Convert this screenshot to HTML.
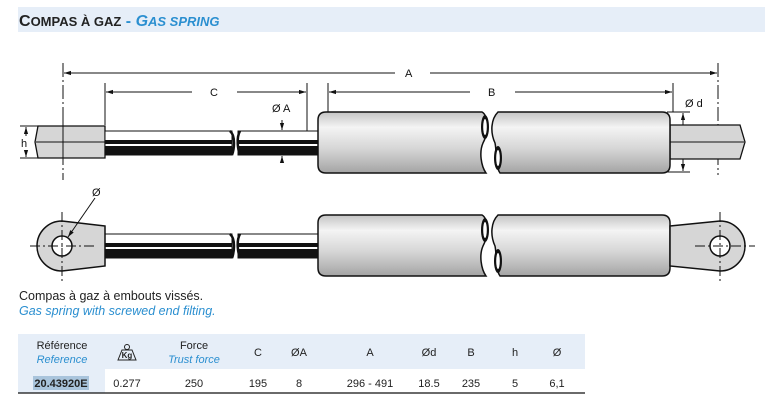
<!DOCTYPE html>
<html><head><meta charset="utf-8"><style>
body{margin:0;width:772px;height:408px;background:#fff;overflow:hidden;font-family:"Liberation Sans",sans-serif}
svg{position:absolute;left:0;top:0}
</style></head><body>
<svg width="772" height="408" viewBox="0 0 772 408" xmlns="http://www.w3.org/2000/svg" font-family="Liberation Sans, sans-serif">
<defs>
<linearGradient id="g" x1="0" y1="0" x2="0" y2="1">
<stop offset="0" stop-color="#c4c4c4"/><stop offset="0.25" stop-color="#f4f4f4"/><stop offset="0.6" stop-color="#d6d6d6"/><stop offset="1" stop-color="#a4a4a4"/></linearGradient>
<marker id="ar" viewBox="0 0 10 10" refX="10" refY="5" markerWidth="7" markerHeight="7" orient="auto-start-reverse"><path d="M0,2 L10,5 L0,8 Z" fill="#111"/></marker>
</defs>
<rect x="18" y="7" width="747" height="25" fill="#e6eef8"/>
<text x="19" y="26" font-size="16" font-weight="bold" fill="#222">C<tspan font-size="13">OMPAS À GAZ</tspan> <tspan fill="#2b8fd0">- </tspan><tspan fill="#2b8fd0" font-style="italic">G<tspan font-size="13">AS SPRING</tspan></tspan></text>

<g stroke="#111" stroke-width="1" fill="none">
<line x1="63" y1="63" x2="63" y2="180" stroke-dasharray="14,3,2,3"/>
<line x1="718" y1="63" x2="718" y2="175" stroke-dasharray="14,3,2,3"/>
<line x1="105" y1="83" x2="105" y2="125"/>
<line x1="307" y1="83" x2="307" y2="131"/>
<line x1="328" y1="83" x2="328" y2="112"/>
<line x1="673" y1="83" x2="673" y2="112"/>
<line x1="64" y1="73" x2="395" y2="73" marker-start="url(#ar)"/>
<line x1="430" y1="73" x2="717" y2="73" marker-end="url(#ar)"/>
<line x1="106" y1="92" x2="192" y2="92" marker-start="url(#ar)"/>
<line x1="237" y1="92" x2="306" y2="92" marker-end="url(#ar)"/>
<line x1="329" y1="92" x2="470" y2="92" marker-start="url(#ar)"/>
<line x1="515" y1="92" x2="672" y2="92" marker-end="url(#ar)"/>
<line x1="20" y1="126" x2="38" y2="126"/><line x1="20" y1="158" x2="38" y2="158"/>
<line x1="26" y1="136" x2="26" y2="127" marker-end="url(#ar)"/>
<line x1="26" y1="150" x2="26" y2="157" marker-end="url(#ar)"/>
<line x1="282" y1="120" x2="282" y2="130" marker-end="url(#ar)"/>
<line x1="282" y1="131" x2="282" y2="154" />
<line x1="282" y1="160" x2="282" y2="156" marker-end="url(#ar)"/>
<line x1="667" y1="112" x2="690" y2="112"/><line x1="667" y1="172" x2="690" y2="172"/>
<line x1="683" y1="140" x2="683" y2="113" marker-end="url(#ar)"/>
<line x1="683" y1="145" x2="683" y2="171" marker-end="url(#ar)"/>
</g>
<g font-size="11" fill="#111">
<text x="405" y="77">A</text><text x="210" y="96">C</text><text x="488" y="96">B</text>
<text x="21" y="147">h</text><text x="272" y="112">Ø A</text><text x="685" y="107">Ø d</text>
<text x="92" y="196">Ø</text>
</g>

<polygon points="38,126 105,126 105,158 38,158 35,142" fill="#d6d6d6" stroke="#111" stroke-width="1.3"/>
<line x1="36" y1="142" x2="105" y2="142" stroke="#111"/>
<line x1="63" y1="120" x2="63" y2="165" stroke="#111"/>
<g id="rod">
<rect x="105" y="131" width="127" height="24" fill="#fff" stroke="#111"/>
<rect x="105" y="140" width="127" height="4" fill="#111"/>
<rect x="105" y="146" width="127" height="9" fill="#111"/>
<rect x="238" y="131" width="82" height="24" fill="#fff" stroke="#111"/>
<rect x="238" y="140" width="82" height="4" fill="#111"/>
<rect x="238" y="146" width="82" height="9" fill="#111"/>
<path d="M230,131 C236,136 234,150 232,155 M240,131 C236,138 238,150 240,155" stroke="#111" stroke-width="2.5" fill="none"/>
</g>
<polygon points="670,125 740,125 745,142 740,159 670,159" fill="#d6d6d6" stroke="#111" stroke-width="1.3"/>
<line x1="670" y1="142" x2="744" y2="142" stroke="#111"/>
<g id="cyl">
<path d="M326,112 H482 C489,116 488,134 483,143 C479,152 481,166 486,173 H326 Q318,173 318,165 V120 Q318,112 326,112 Z" fill="url(#g)" stroke="#111" stroke-width="1.5"/>
<ellipse cx="485" cy="127" rx="4" ry="12" fill="#111"/><ellipse cx="485" cy="127" rx="1.8" ry="8" fill="#fff"/>
<path d="M498,112 H662 Q670,112 670,120 V165 Q670,173 662,173 H500 C495,166 497,152 495,143 C490,132 491,119 498,112 Z" fill="url(#g)" stroke="#111" stroke-width="1.5"/>
<ellipse cx="498" cy="158" rx="4" ry="12" fill="#111"/><ellipse cx="498" cy="158" rx="1.8" ry="8" fill="#fff"/>
</g>

<use href="#rod" transform="translate(0,103)"/>
<use href="#cyl" transform="translate(0,103)"/>
<path d="M105,226 L62,221 A25,25 0 0 0 62,271 L105,266 Z" fill="#d6d6d6" stroke="#111" stroke-width="1.5"/>
<circle cx="62" cy="246" r="10" fill="#fff" stroke="#111" stroke-width="1.5"/>
<line x1="30" y1="246" x2="95" y2="246" stroke="#111" stroke-dasharray="10,3,2,3"/>
<line x1="62" y1="212" x2="62" y2="282" stroke="#111" stroke-dasharray="10,3,2,3"/>
<line x1="95" y1="198" x2="68" y2="237" stroke="#111" marker-end="url(#ar)"/>
<path d="M670,226 L720,221 A25,25 0 0 1 720,271 L670,266 Z" fill="#d6d6d6" stroke="#111" stroke-width="1.5"/>
<circle cx="720" cy="246" r="10" fill="#fff" stroke="#111" stroke-width="1.5"/>
<line x1="695" y1="246" x2="755" y2="246" stroke="#111" stroke-dasharray="10,3,2,3"/>
<line x1="720" y1="212" x2="720" y2="282" stroke="#111" stroke-dasharray="10,3,2,3"/>

<text x="19" y="300" font-size="12.5" fill="#222">Compas à gaz à embouts vissés.</text>
<text x="19" y="315" font-size="12.5" fill="#2b8fd0" font-style="italic">Gas spring with screwed end filting.</text>

<rect x="18" y="334" width="567" height="35" fill="#e6eef8"/>
<rect x="18" y="369" width="87" height="24" fill="#e6eef8"/>
<line x1="18" y1="393" x2="585" y2="393" stroke="#111" stroke-width="1.3"/>
<g font-size="11" fill="#222" text-anchor="middle">
<text x="62" y="349">Référence</text><text x="62" y="363" fill="#2b8fd0" font-style="italic">Reference</text>
<text x="194" y="349">Force</text><text x="194" y="363" fill="#2b8fd0" font-style="italic">Trust force</text>
<text x="258" y="356">C</text><text x="299" y="356">ØA</text><text x="370" y="356">A</text>
<text x="429" y="356">Ød</text><text x="471" y="356">B</text><text x="515" y="356">h</text><text x="557" y="356">Ø</text>
<rect x="33" y="376" width="56" height="14" fill="#a9c4dc"/>
<text x="61" y="387" font-weight="bold">20.43920E</text>
<text x="127" y="387">0.277</text><text x="194" y="387">250</text><text x="258" y="387">195</text>
<text x="299" y="387">8</text><text x="370" y="387">296 - 491</text><text x="429" y="387">18.5</text>
<text x="471" y="387">235</text><text x="515" y="387">5</text><text x="557" y="387">6,1</text>
</g>
<path d="M118,360 L122,350 H132 L136,360 Z" fill="none" stroke="#222"/>
<circle cx="127" cy="347" r="2.5" fill="none" stroke="#222"/>
<text x="127" y="358" font-size="8" font-weight="bold" text-anchor="middle" fill="#222">Kg</text>
</svg>
</body></html>
